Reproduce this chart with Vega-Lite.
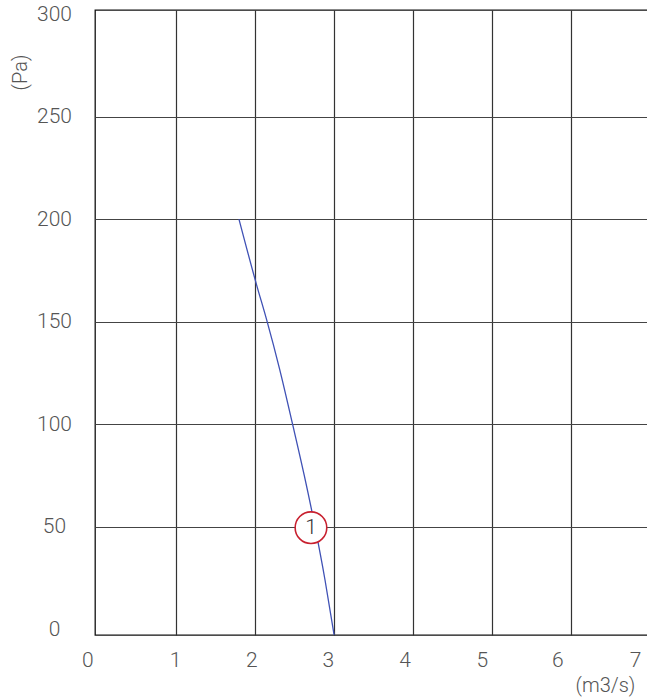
{
  "$schema": "https://vega.github.io/schema/vega-lite/v6.json",
  "width": 554.6,
  "height": 625,
  "autosize": {"type": "none"},
  "padding": {"left": 95, "top": 10, "right": 0, "bottom": 65},
  "background": "white",
  "config": {
    "view": {"stroke": "#111", "strokeWidth": 1.3},
    "font": "Roboto",
    "axis": {"labelFont": "Roboto", "titleFont": "Roboto"}
  },
  "datasets": {
    "curve": [
      {"flow": 1.798, "pressure": 200},
      {"flow": 2.021, "pressure": 168},
      {"flow": 2.148, "pressure": 151},
      {"flow": 2.312, "pressure": 127},
      {"flow": 2.477, "pressure": 100},
      {"flow": 2.625, "pressure": 75},
      {"flow": 2.761, "pressure": 50},
      {"flow": 2.888, "pressure": 24},
      {"flow": 3.003, "pressure": -2.8}
    ],
    "marker": [
      {"flow": 2.71, "pressure": 49.5, "label": "1"}
    ]
  },
  "layer": [
    {
      "data": {"name": "curve"},
      "mark": {"type": "line", "color": "#3f51b5", "strokeWidth": 1.3, "interpolate": "monotone"},
      "encoding": {
        "x": {
          "field": "flow",
          "type": "quantitative",
          "scale": {"domain": [-0.026, 7], "nice": false, "zero": false},
          "axis": {
            "title": "(m3/s)",
            "values": [0, 1, 2, 3, 4, 5, 6, 7],
            "format": "d",
            "grid": true,
            "gridColor": {"condition": {"test": "datum.value === 0", "value": "transparent"}, "value": "#333"},
            "gridWidth": 1.2,
            "ticks": false,
            "domain": false,
            "labelFontSize": 21,
            "labelFontWeight": 300,
            "labelColor": "#555",
            "labelPadding": 15,
            "labelFlush": false,
            "labelOverlap": false,
            "labelOffset": {"expr": "[-9.8,-1,-3.7,-6,-8.3,-10,-13.4,-14.6][datum.value]"},
            "titleFontSize": 20,
            "titleFontWeight": 300,
            "titleColor": "#555",
            "titleX": 510,
            "titleY": 51,
            "titleAlign": "center",
            "titleBaseline": "middle"
          }
        },
        "y": {
          "field": "pressure",
          "type": "quantitative",
          "scale": {"domain": [-2.83, 302.05], "nice": false, "zero": false},
          "axis": {
            "title": "(Pa)",
            "values": [0, 50, 100, 150, 200, 250, 300],
            "format": "d",
            "grid": true,
            "gridColor": {"condition": {"test": "datum.value === 0 || datum.value === 300", "value": "transparent"}, "value": "#444"},
            "gridWidth": 1.2,
            "ticks": false,
            "domain": false,
            "labelFontSize": 21,
            "labelFontWeight": 300,
            "labelColor": "#555",
            "labelAlign": "center",
            "labelBaseline": "middle",
            "labelPadding": 41,
            "labelFlush": false,
            "labelOverlap": false,
            "titleFontSize": 20,
            "titleFontWeight": 300,
            "titleColor": "#555",
            "titleAngle": -90,
            "titleX": -74,
            "titleY": 62,
            "titleAlign": "center",
            "titleBaseline": "middle"
          }
        }
      }
    },
    {
      "data": {"name": "marker"},
      "mark": {"type": "point", "shape": "circle", "filled": true, "fill": "white", "stroke": "#c8202f", "strokeWidth": 1.6, "size": 1000, "opacity": 1},
      "encoding": {
        "x": {"field": "flow", "type": "quantitative"},
        "y": {"field": "pressure", "type": "quantitative"}
      }
    },
    {
      "data": {"name": "marker"},
      "mark": {"type": "text", "fontSize": 21, "fontWeight": 300, "color": "#333", "baseline": "middle", "align": "center"},
      "encoding": {
        "x": {"field": "flow", "type": "quantitative"},
        "y": {"field": "pressure", "type": "quantitative"},
        "text": {"field": "label"}
      }
    }
  ]
}
